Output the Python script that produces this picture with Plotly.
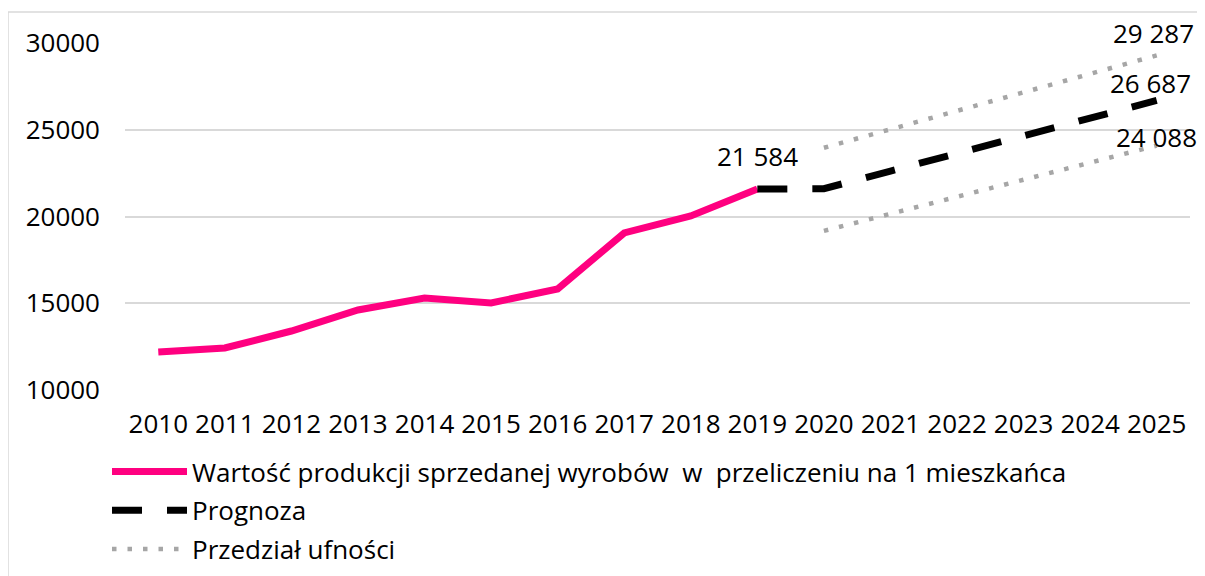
import plotly.graph_objects as go

# values
years = list(range(2010, 2026))

hist_years = years[:10]  # 2010-2019
hist_vals = [12190, 12420, 13400, 14610, 15300, 15020, 15820, 19050, 20030, 21584]

fc_years = years[9:]  # 2019-2025
fc_vals = [21584, 21600, 22620, 23640, 24650, 25670, 26687]

ci_years = years[10:]  # 2020-2025
ci_upper = [23960, 25025, 26090, 27155, 28220, 29287]
ci_lower = [19170, 20155, 21140, 22120, 23105, 24088]

y_ticks = [10000, 15000, 20000, 25000, 30000]

FONT = "Open Sans"
PINK = "#FF0080"
GREY = "#A6A6A6"

# page body adds an 8px offset, so the figure is drawn 8px smaller
W, H = 1197, 568


def fmt(v):
    return f"{v:,}".replace(",", " ")


fig = go.Figure()
fig.add_trace(go.Scatter(
    x=hist_years, y=hist_vals, mode="lines",
    name="Wartość produkcji sprzedanej wyrobów\u00a0 w\u00a0 przeliczeniu na 1 mieszkańca",
    line=dict(color=PINK, width=7),
))
fig.add_trace(go.Scatter(
    x=fc_years, y=fc_vals, mode="lines", name="Prognoza",
    line=dict(color="#000000", width=7, dash="30px,25px"),
))
fig.add_trace(go.Scatter(
    x=ci_years, y=ci_upper, mode="lines", name="Przedział ufności",
    legendgroup="ci", line=dict(color=GREY, width=4.5, dash="4.5px,11px"),
))
fig.add_trace(go.Scatter(
    x=ci_years, y=ci_lower, mode="lines", name="Przedział ufności",
    legendgroup="ci", showlegend=False,
    line=dict(color=GREY, width=4.5, dash="4.5px,11px"),
))

# data labels
labels = [
    (hist_years[-1], hist_vals[-1], 0, 33),
    (ci_years[-1], ci_upper[-1], -3, 22),
    (fc_years[-1], fc_vals[-1], -6, 17),
    (ci_years[-1], ci_lower[-1], 0, 9),
]
for x, y, xs, ys in labels:
    fig.add_annotation(x=x, y=y, text=fmt(y), showarrow=False,
                       xshift=xs, yshift=ys,
                       font=dict(family=FONT, size=26, color="#000000"))

# chart area border (only left + top edges are in frame)
bx = (0 - 117) / 1065
by = (382 - 4) / 347
fig.add_shape(type="line", xref="paper", yref="paper",
              x0=bx, x1=1.2, y0=by, y1=by,
              line=dict(color="#D9D9D9", width=1.5))
fig.add_shape(type="line", xref="paper", yref="paper",
              x0=bx, x1=bx, y0=-1, y1=by,
              line=dict(color="#D9D9D9", width=1.5))

fig.update_layout(
    width=W, height=H,
    margin=dict(l=117, r=15, t=35, b=186, autoexpand=False),
    paper_bgcolor="white", plot_bgcolor="white",
    font=dict(family=FONT, size=26, color="#000000"),
    showlegend=True,
    legend=dict(
        orientation="v", xref="container", yref="container",
        x=99 / W, y=1 - 440 / H, xanchor="left", yanchor="top",
        itemwidth=75, tracegroupgap=2, font=dict(family=FONT, size=26),
        bgcolor="rgba(0,0,0,0)",
    ),
    xaxis=dict(
        range=[years[0] - 0.5, years[-1] + 0.5], tickvals=years,
        tickformat="d",
        showgrid=False, showline=False, zeroline=False,
        tickangle=0, ticklabelstandoff=16, ticks="",
    ),
    yaxis=dict(
        range=[y_ticks[0], y_ticks[-1]], tickvals=y_ticks,
        tickformat="d",
        showgrid=True, gridcolor="#D9D9D9", gridwidth=1.5,
        zeroline=False, showline=False, ticklabelstandoff=24,
    ),
)

fig.write_html("out.html")
